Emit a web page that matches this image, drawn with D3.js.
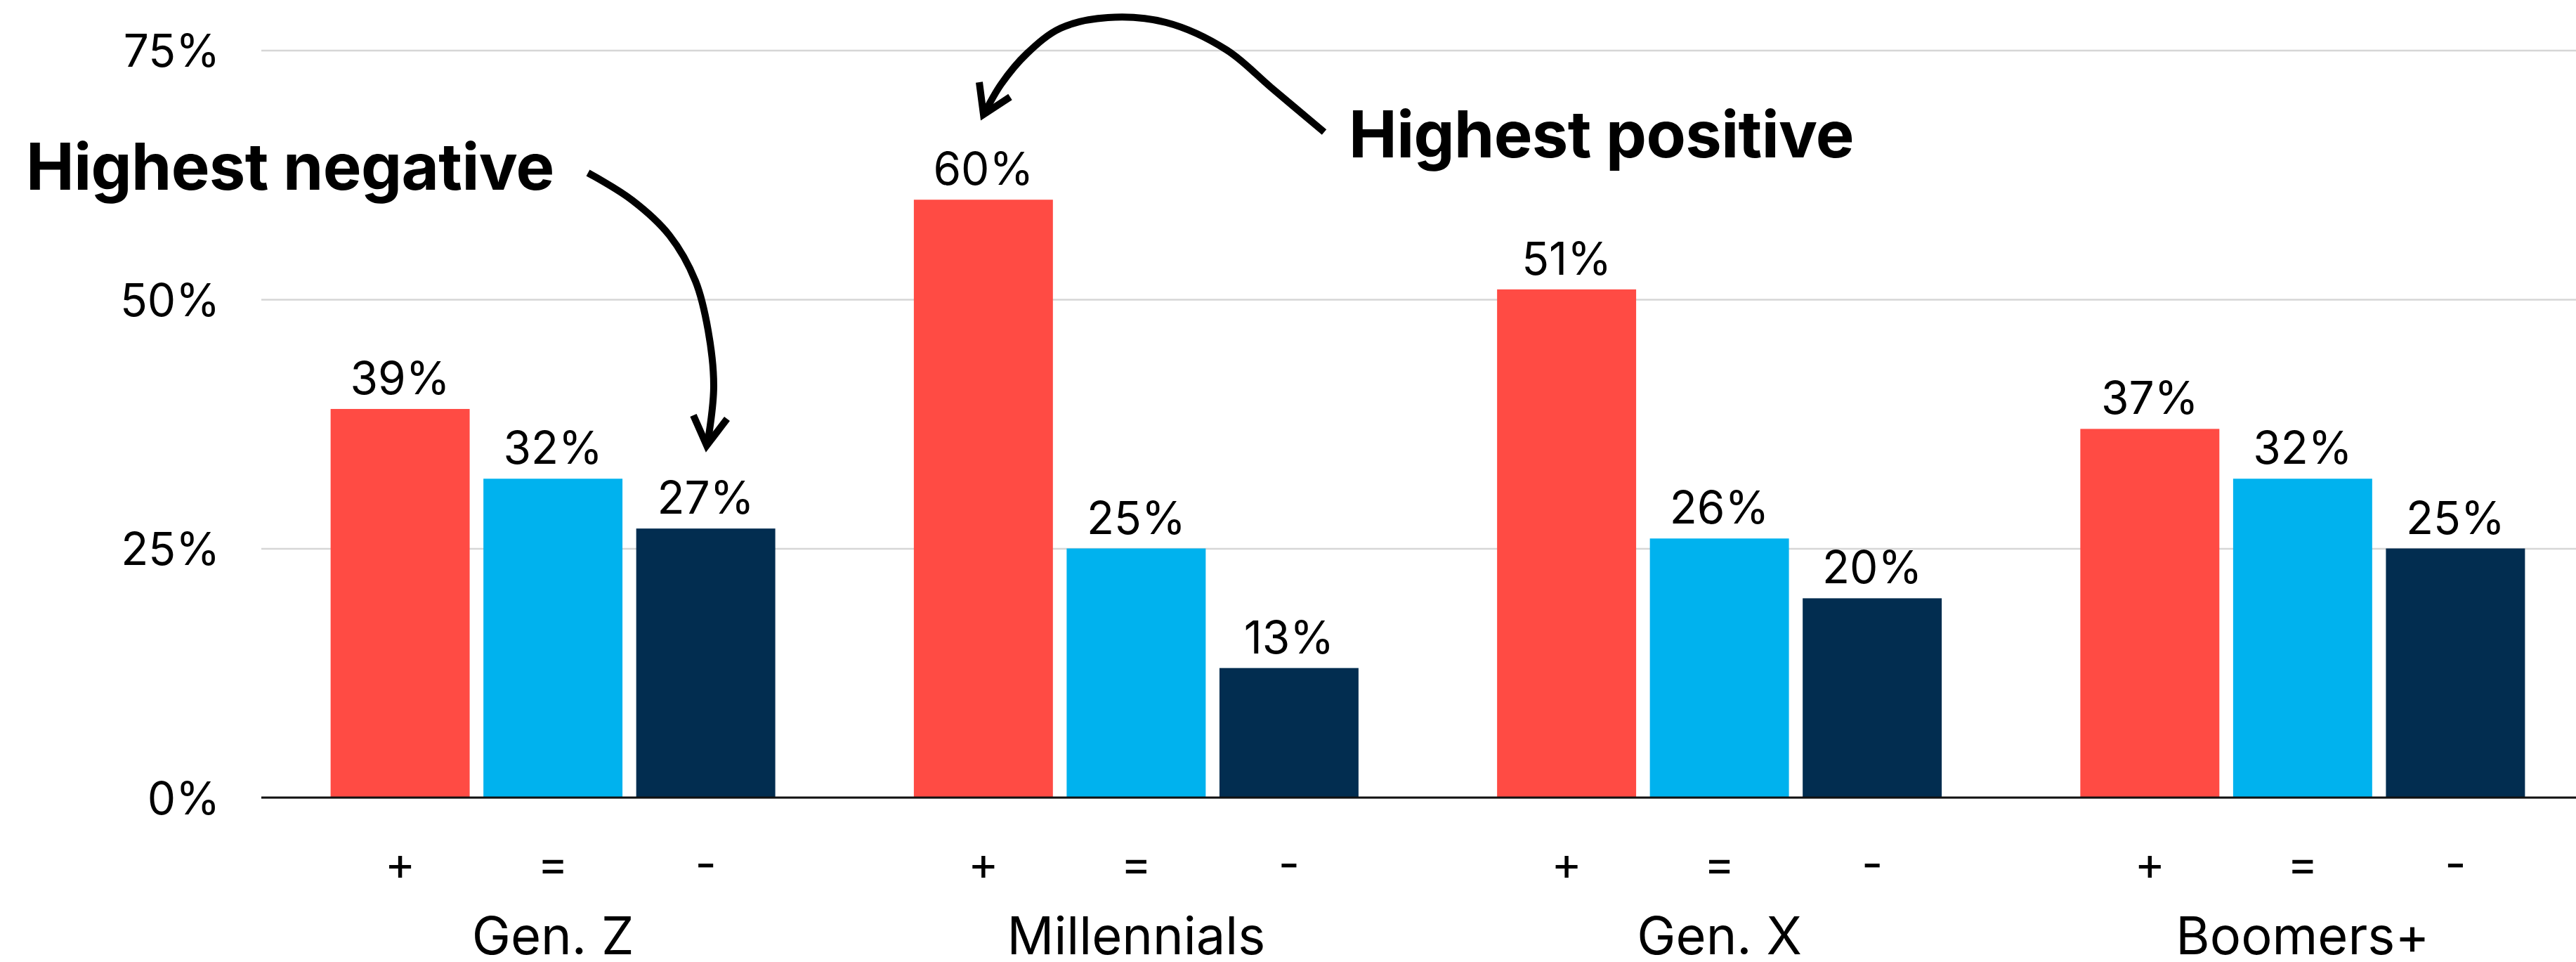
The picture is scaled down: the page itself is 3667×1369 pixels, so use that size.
<!DOCTYPE html>
<html>
<head>
<meta charset="utf-8">
<script src="https://cdn.jsdelivr.net/npm/d3@7"></script>
<style>
  html, body { margin: 0; padding: 0; background: #ffffff; }
  svg { display: block; font-family: Inter, "Noto Sans", sans-serif; }
</style>
</head>
<body>
<svg id="chart" width="3667" height="1369"></svg>
<script>
// Share of respondents by generation: positive (+), neutral (=), negative (-)
const generations = ["Gen. Z", "Millennials", "Gen. X", "Boomers+"];
const sentiments = ["+", "=", "-"];
const positive = [39, 60, 51, 37];
const neutral  = [32, 25, 26, 32];
const negative = [27, 13, 20, 25];
const yTicks = [0, 25, 50, 75];

const sentimentColors = ["#FF4B44", "#00B2EE", "#022D50"];
const seriesValues = [positive, neutral, negative];

const rows = generations.map((g, i) => ({
  group: g,
  values: sentiments.map((s, j) => ({ key: s, value: seriesValues[j][i], color: sentimentColors[j] }))
}));

const svg = d3.select("#chart");
const W = 3667, H = 1369;
const plotLeft = 372, plotRight = 3693, plotTop = 71.5, plotBottom = 1135;

const x0 = d3.scaleBand()
  .domain(generations)
  .range([plotLeft, plotRight])
  .paddingInner(0.2376)
  .paddingOuter(0.1188);

const x1 = d3.scaleBand()
  .domain(sentiments)
  .range([0, x0.bandwidth()])
  .paddingInner(0.09)
  .paddingOuter(0);

const y = d3.scaleLinear().domain([0, 75]).range([plotBottom, plotTop]);

// gridlines + y labels
const yAxis = d3.axisLeft(y)
  .tickValues(yTicks)
  .tickFormat(d => d + "%")
  .tickSize(-(W - plotLeft))
  .tickPadding(59);

const gy = svg.append("g")
  .attr("transform", `translate(${plotLeft},0)`)
  .call(yAxis);
gy.select(".domain").remove();
gy.selectAll(".tick line").attr("stroke", "#d6d6d6").attr("stroke-width", 2.5);
gy.selectAll(".tick text")
  .attr("fill", "#000")
  .attr("font-size", 64)
  .attr("font-family", "Inter, sans-serif")
  .attr("dy", "0.36em");

// bars
const groups = svg.append("g").selectAll("g")
  .data(rows)
  .join("g")
  .attr("transform", d => `translate(${x0(d.group)},0)`);

groups.selectAll("rect")
  .data(d => d.values)
  .join("rect")
  .attr("x", d => x1(d.key))
  .attr("y", d => y(d.value))
  .attr("width", x1.bandwidth())
  .attr("height", d => y(0) - y(d.value))
  .attr("fill", d => d.color);

// value labels
groups.selectAll("text.value")
  .data(d => d.values)
  .join("text")
  .attr("class", "value")
  .attr("x", d => x1(d.key) + x1.bandwidth() / 2)
  .attr("y", d => y(d.value) - 21)
  .attr("text-anchor", "middle")
  .attr("font-size", 64)
  .attr("fill", "#000")
  .text(d => d.value + "%");

// sentiment symbols under each bar
groups.selectAll("text.sym")
  .data(d => d.values)
  .join("text")
  .attr("class", "sym")
  .attr("x", d => x1(d.key) + x1.bandwidth() / 2)
  .attr("y", 1252)
  .attr("text-anchor", "middle")
  .attr("font-size", 66)
  .attr("fill", "#000")
  .text(d => d.key);

// generation labels
groups.append("text")
  .attr("x", x0.bandwidth() / 2)
  .attr("y", 1358)
  .attr("text-anchor", "middle")
  .attr("font-size", 74)
  .attr("fill", "#000")
  .text(d => d.group);

// baseline
svg.append("line")
  .attr("x1", plotLeft).attr("x2", W)
  .attr("y1", y(0)).attr("y2", y(0))
  .attr("stroke", "#111").attr("stroke-width", 3);

// annotations
const ann = svg.append("g");
ann.append("text")
  .attr("x", 37).attr("y", 270)
  .attr("font-size", 92).attr("font-weight", 700)
  .attr("letter-spacing", -0.6)
  .attr("fill", "#000")
  .text("Highest negative");
ann.append("text")
  .attr("x", 1920).attr("y", 224)
  .attr("font-size", 92).attr("font-weight", 700)
  .attr("letter-spacing", -0.6)
  .attr("fill", "#000")
  .text("Highest positive");

const curve = d3.line().curve(d3.curveCatmullRom.alpha(0.5));
const arrowStyle = sel => sel.attr("fill", "none").attr("stroke", "#000")
  .attr("stroke-width", 10).attr("stroke-linecap", "butt").attr("stroke-linejoin", "miter");

// arrow toward the largest negative share (Gen. Z)
ann.append("path")
  .attr("d", curve([[837, 246], [900, 285], [953, 335], [990, 400], [1008, 470], [1016, 550], [1007, 632]]))
  .call(arrowStyle);
ann.append("path")
  .attr("d", "M987,591 L1006,634 L1035,596")
  .call(arrowStyle);

// arrow toward the largest positive share (Millennials)
ann.append("path")
  .attr("d", curve([[1885, 188], [1810, 125], [1746, 71], [1660, 32], [1577, 25], [1510, 40], [1462, 76], [1425, 120], [1401, 162]]))
  .call(arrowStyle);
ann.append("path")
  .attr("d", "M1394,117 L1400,163 L1438,138")
  .call(arrowStyle);
</script>
</body>
</html>
